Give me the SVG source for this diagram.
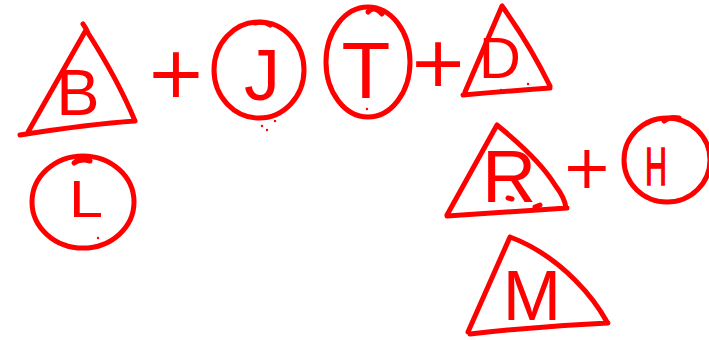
<svg xmlns="http://www.w3.org/2000/svg" width="709" height="340" viewBox="0 0 709 340">
<style>
.s{fill:none;stroke:#ff0000;stroke-width:5;stroke-linecap:round;stroke-linejoin:round}
.t{fill:#ff0000;font-family:"Liberation Sans",Arial,sans-serif;text-anchor:middle}
.p{fill:#ff0000;font-family:"DejaVu Sans",sans-serif;text-anchor:middle}
.d{fill:#ff0000}
</style>
<rect width="709" height="340" fill="#ffffff"/>
<g id="node-B">
<path class="s" d="M83,24 Q86,28 88,33 Q118,80 135,121 Q90,124 20,135 M86,30 L28,132"/>
<text class="t" x="78" y="115" font-size="65">B</text>
</g>
<g id="node-J">
<ellipse class="s" cx="259" cy="70" rx="45" ry="48"/>
<path class="s" d="M255,23 Q264,21 270,25"/>
<circle class="d" cx="258" cy="118" r="1.2"/><circle class="d" cx="262" cy="126" r="1.2"/><circle class="d" cx="267" cy="130" r="1.2"/><circle class="d" cx="275" cy="121" r="1.2"/>
<text class="t" x="262" y="100" font-size="72">J</text>
</g>
<g id="node-T">
<ellipse class="s" cx="368" cy="62" rx="42" ry="55"/>
<path class="s" d="M368,12 Q374,5 382,14"/>
<circle class="d" cx="367" cy="109" r="1.2"/>
<text class="t" x="366" y="98" font-size="80">T</text>
</g>
<g id="node-D">
<path class="s" d="M502,6 Q530,45 550,86 M502,6 L465,92 M463,95 Q510,91 550,88"/>
<circle class="d" cx="501" cy="90" r="1.2"/><circle class="d" cx="528" cy="84" r="1.2"/>
<text class="t" x="500" y="78" font-size="58">D</text>
</g>
<g id="node-L">
<ellipse class="s" cx="83" cy="202" rx="51" ry="46"/>
<path class="s" d="M74,163 Q80,158 90,161"/>
<circle class="d" cx="98" cy="238" r="1.2"/>
<text class="t" x="86" y="217" font-size="52" textLength="34" lengthAdjust="spacingAndGlyphs">L</text>
</g>
<g id="node-R">
<path class="s" d="M497,125 L447,215 M497,125 Q540,160 555,185 Q565,198 566,208 M447,216 Q510,212 567,208"/>
<path class="s" d="M508,198 L512,199 M535,207 L540,205" stroke-width="2.5"/>
<text class="t" x="509" y="202" font-size="75">R</text>
</g>
<g id="node-H">
<ellipse class="s" cx="667" cy="160" rx="43" ry="42"/>
<path class="s" d="M664,121 Q670,116 679,118"/>
<text class="t" x="656" y="185" font-size="53" textLength="22" lengthAdjust="spacingAndGlyphs" stroke="#ff0000" stroke-width="1.5">H</text>
</g>
<g id="node-M">
<path class="s" d="M510,237 L468,332 M510,237 Q545,250 575,280 Q595,300 607,322 M470,334 Q540,326 608,323"/>
<text class="t" x="532" y="320" font-size="70">M</text>
</g>
<g id="connectors">
<text class="p" x="176" y="97" font-size="72">+</text>
<text class="p" x="438" y="86" font-size="70">+</text>
<text class="p" x="587" y="188" font-size="60">+</text>
</g>
</svg>
